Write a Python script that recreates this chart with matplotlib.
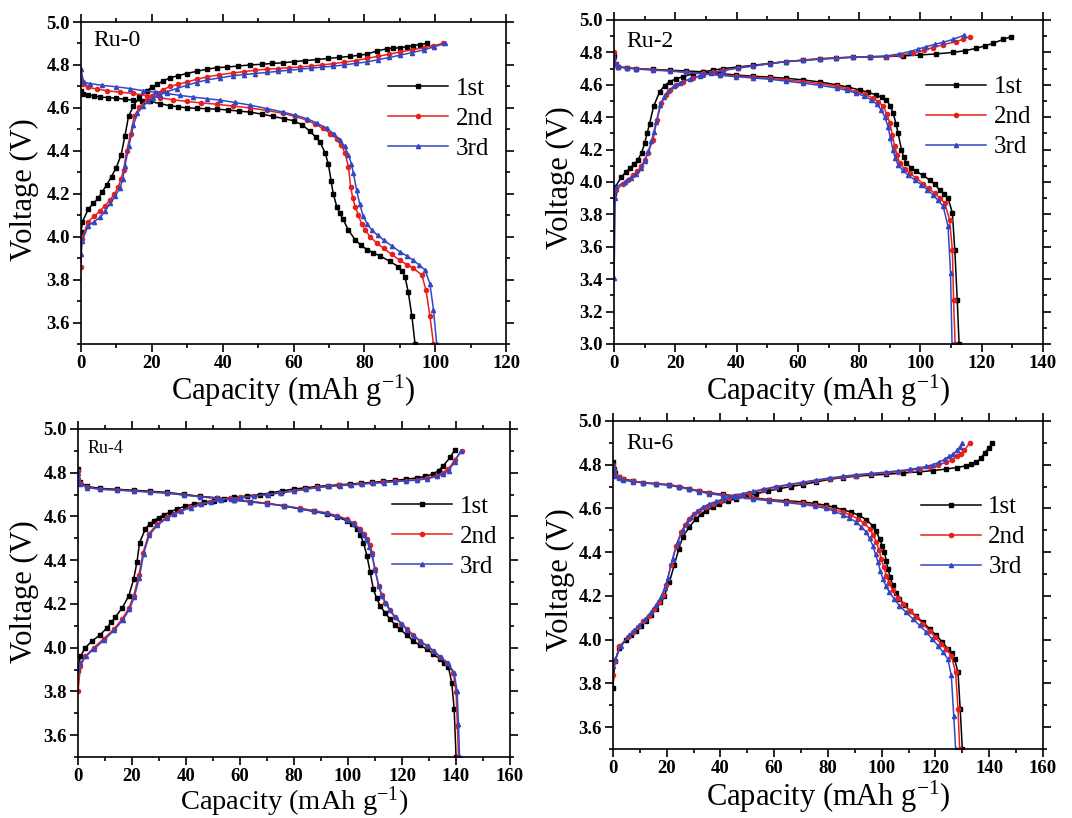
import numpy as np
import matplotlib
matplotlib.use('Agg')
import matplotlib.pyplot as plt
from matplotlib.ticker import MultipleLocator, FormatStrFormatter

plt.rcParams['font.family'] = ['Liberation Serif', 'DejaVu Serif']
plt.rcParams['mathtext.fontset'] = 'custom'
plt.rcParams['mathtext.rm'] = 'Liberation Serif'
plt.rcParams['mathtext.it'] = 'Liberation Serif:italic'

# each curve: (capacity mAh/g, voltage V)

# ---------------- Ru-0 ----------------
ru0_chg1 = [(0, 4.02), (0.4, 4.07), (2.1, 4.13), (3.5, 4.155), (4.9, 4.18), (6, 4.21), (7.2, 4.24), (8.6, 4.28),
            (9.9, 4.32), (11.3, 4.38), (12.4, 4.47), (13.4, 4.56), (14.8, 4.61), (16.5, 4.65), (18.5, 4.68),
            (20, 4.695), (21.4, 4.71), (23.2, 4.725), (25.1, 4.74), (27.4, 4.75), (29.8, 4.76), (32.6, 4.77),
            (35.5, 4.78), (38.3, 4.787), (41.1, 4.79), (44.4, 4.795), (47.7, 4.80), (51, 4.803), (54, 4.807),
            (57.1, 4.81), (60, 4.815), (63.3, 4.82), (66.5, 4.825), (69.6, 4.83), (72.8, 4.835), (76, 4.84),
            (78.5, 4.845), (80.7, 4.85), (83.5, 4.865), (86.3, 4.875), (88, 4.878), (90, 4.88), (92, 4.885),
            (93.8, 4.89), (95.7, 4.895), (97.6, 4.90)]
ru0_chg2 = [(0, 3.86), (0.2, 3.99), (2, 4.07), (3.7, 4.095), (5.4, 4.12), (6.8, 4.145), (8.2, 4.17), (9.4, 4.20),
            (10.5, 4.23), (11.3, 4.27), (12, 4.31), (12.9, 4.40), (14, 4.48), (15, 4.56), (16.5, 4.605),
            (18.5, 4.635), (20, 4.653), (21.4, 4.667), (23.2, 4.685), (25.1, 4.70), (27.4, 4.71), (29.8, 4.72),
            (32.6, 4.733), (35.5, 4.744), (39, 4.754), (43, 4.763), (46, 4.769), (49.2, 4.775), (52.4, 4.78),
            (55.5, 4.783), (58.6, 4.787), (61.8, 4.79), (65, 4.795), (68, 4.80), (71.2, 4.806), (74.3, 4.813),
            (77.5, 4.82), (80.7, 4.83), (83.8, 4.84), (87, 4.85), (90, 4.86), (93.3, 4.87), (96.7, 4.88),
            (99.5, 4.89), (102.3, 4.90)]
ru0_chg3 = [(0, 3.92), (0.3, 3.98), (2, 4.05), (3.7, 4.07), (5.4, 4.09), (6.8, 4.12), (8.2, 4.155), (9.6, 4.19),
            (11, 4.225), (11.8, 4.27), (12.4, 4.33), (13.5, 4.42), (14.8, 4.52), (15.9, 4.575), (17.6, 4.61),
            (19, 4.63), (20.4, 4.645), (22.3, 4.66), (24.2, 4.675), (27, 4.69), (29.8, 4.705), (32.6, 4.718),
            (35.5, 4.73), (39.2, 4.74), (43, 4.75), (46, 4.755), (49.2, 4.76), (52.4, 4.765), (55.5, 4.77),
            (58.6, 4.775), (61.8, 4.78), (65, 4.785), (68, 4.79), (71.2, 4.794), (74.3, 4.80), (77.5, 4.807),
            (80.7, 4.814), (83.8, 4.824), (87, 4.835), (90, 4.845), (93.3, 4.857), (96.7, 4.87), (99.7, 4.885),
            (102.8, 4.90)]
ru0_dis1 = [(0, 4.68), (0.5, 4.665), (2, 4.66), (3.7, 4.655), (5.4, 4.65), (7.7, 4.648), (10, 4.645), (12.4, 4.64),
            (14.8, 4.635), (17.2, 4.632), (19.5, 4.63), (22.3, 4.62), (25, 4.61), (27.4, 4.605), (29.8, 4.60),
            (32.6, 4.598), (35.5, 4.596), (38.3, 4.594), (41.5, 4.59), (44.6, 4.585), (47.7, 4.58), (51, 4.571),
            (54.3, 4.56), (57.2, 4.55), (60, 4.54), (62.5, 4.52), (64.7, 4.49), (66.2, 4.465), (67.5, 4.44),
            (68.9, 4.39), (69.8, 4.34), (70.6, 4.26), (71.2, 4.20), (72.2, 4.14), (73, 4.11), (74, 4.08),
            (75.5, 4.03), (77.4, 3.985), (79, 3.96), (80.7, 3.94), (82.5, 3.925), (84.4, 3.91), (87.2, 3.885),
            (89.6, 3.86), (90.7, 3.84), (91.5, 3.81), (92.4, 3.74), (93.4, 3.63), (94.3, 3.50)]
ru0_dis2 = [(0, 4.73), (0.5, 4.71), (2, 4.695), (4.5, 4.688), (7.2, 4.68), (11, 4.673), (14.8, 4.667), (18.5, 4.657),
            (22.3, 4.647), (26, 4.638), (29.8, 4.63), (34, 4.623), (38.3, 4.617), (43, 4.608), (47.7, 4.60),
            (52.4, 4.588), (57.1, 4.574), (60.4, 4.56), (63.7, 4.543), (66, 4.525), (68.4, 4.504), (70.4, 4.48),
            (72.2, 4.457), (73.5, 4.425), (74.5, 4.39), (75.5, 4.326), (76.1, 4.233), (76.7, 4.18), (77.4, 4.14),
            (78.3, 4.10), (79.2, 4.06), (80.3, 4.03), (81.6, 4.00), (83.5, 3.97), (85.4, 3.946), (87.7, 3.917),
            (90, 3.89), (92, 3.87), (93.8, 3.853), (96.2, 3.822), (97.4, 3.75), (98.5, 3.63), (99.5, 3.50)]
ru0_dis3 = [(0, 4.78), (0.7, 4.72), (2.5, 4.713), (6, 4.705), (10, 4.698), (13.8, 4.69), (17.6, 4.68), (21, 4.673),
            (24.2, 4.667), (28, 4.658), (31.7, 4.65), (35.5, 4.643), (39.2, 4.636), (43.5, 4.625), (47.7, 4.613),
            (52.4, 4.597), (57.1, 4.58), (60.4, 4.566), (63.7, 4.55), (66.5, 4.53), (69.4, 4.504), (71.3, 4.48),
            (73.1, 4.45), (74.4, 4.42), (75.5, 4.38), (76.3, 4.34), (76.9, 4.295), (77.8, 4.217), (78.7, 4.15),
            (79.7, 4.094), (80.8, 4.06), (82.1, 4.03), (83.7, 4.007), (85.4, 3.985), (87.7, 3.957), (90, 3.93),
            (92, 3.91), (93.8, 3.89), (95.5, 3.868), (97.1, 3.845), (98.5, 3.78), (99.5, 3.66), (100.4, 3.50)]

# ---------------- Ru-2 ----------------
ru2_chg1 = [(0, 3.93), (0.4, 3.97), (2.4, 4.03), (3.8, 4.06), (5.1, 4.085), (6.5, 4.11), (7.8, 4.137), (9, 4.18),
            (10, 4.24), (10.8, 4.30), (11.6, 4.36), (12.9, 4.466), (14.9, 4.558), (16.5, 4.595), (18.2, 4.62),
            (20.3, 4.637), (22.5, 4.65), (25.7, 4.667), (29, 4.68), (32.3, 4.69), (35.6, 4.70), (40.5, 4.71),
            (45.4, 4.72), (50.8, 4.732), (56.2, 4.743), (61.6, 4.752), (67.1, 4.76), (72.5, 4.766), (78, 4.77),
            (83.5, 4.772), (88.9, 4.774), (94.3, 4.778), (99.7, 4.784), (105, 4.79), (110.6, 4.80), (114.5, 4.81),
            (118.2, 4.825), (121, 4.84), (123.7, 4.856), (126.9, 4.88), (129.7, 4.897)]
ru2_chg2 = [(0, 3.90), (0.8, 3.95), (2.9, 3.99), (4.5, 4.015), (6.2, 4.04), (7.6, 4.065), (8.9, 4.096), (10, 4.135),
            (11.1, 4.18), (12.7, 4.26), (14, 4.383), (15.4, 4.486), (16.8, 4.535), (18.2, 4.568), (20.3, 4.597),
            (22.5, 4.62), (25.7, 4.642), (29, 4.66), (32.3, 4.676), (35.6, 4.69), (40.5, 4.704), (45.4, 4.716),
            (50.8, 4.73), (56.2, 4.743), (61.6, 4.752), (67.1, 4.76), (72.5, 4.766), (78, 4.77), (83.5, 4.772),
            (88.9, 4.774), (93.5, 4.782), (97.6, 4.795), (101, 4.812), (104.1, 4.83), (107.5, 4.848),
            (111.7, 4.866), (114, 4.882), (116, 4.897)]
ru2_chg3 = [(0, 3.41), (0.4, 3.90), (0.8, 3.97), (3.5, 4.00), (5.4, 4.025), (7.3, 4.05), (8.7, 4.085), (10, 4.13),
            (11.2, 4.19), (12.2, 4.25), (13, 4.31), (13.8, 4.373), (15.1, 4.476), (16.3, 4.525), (17.6, 4.56),
            (19.5, 4.59), (21.4, 4.61), (24.7, 4.635), (28, 4.655), (31.8, 4.673), (35.6, 4.688), (40.5, 4.703),
            (45.4, 4.716), (50.8, 4.73), (56.2, 4.743), (61.6, 4.75), (67.1, 4.757), (72.5, 4.764), (78, 4.77),
            (83.5, 4.774), (88.9, 4.778), (93, 4.79), (96.5, 4.805), (99.2, 4.82), (101.9, 4.835), (104.7, 4.85),
            (107.4, 4.862), (110.6, 4.88), (114.1, 4.905)]
ru2_dis1 = [(0, 4.78), (0.5, 4.73), (1.3, 4.71), (4.3, 4.705), (7.3, 4.70), (12.8, 4.695), (18.2, 4.69),
            (23.6, 4.685), (29, 4.68), (34.5, 4.67), (39.9, 4.66), (45.3, 4.653), (50.8, 4.647), (56.2, 4.64),
            (61.7, 4.63), (67.2, 4.617), (72.6, 4.60), (76.5, 4.585), (80.2, 4.568), (83, 4.553), (85.6, 4.537),
            (87.4, 4.522), (88.9, 4.507), (90.1, 4.47), (91.1, 4.424), (92, 4.36), (92.7, 4.30), (93.8, 4.20),
            (94.5, 4.155), (95.4, 4.116), (96.9, 4.088), (98.7, 4.065), (100.8, 4.04), (103, 4.013),
            (104.7, 3.985), (106.3, 3.95), (107.8, 3.925), (109, 3.90), (110.4, 3.81), (111.2, 3.58),
            (112, 3.27), (112.6, 3.00)]
ru2_dis2 = [(0, 4.80), (0.5, 4.73), (1.3, 4.71), (4.3, 4.705), (7.3, 4.70), (12.8, 4.693), (18.2, 4.687),
            (23.6, 4.678), (29, 4.67), (34.5, 4.662), (39.9, 4.655), (45.3, 4.647), (50.8, 4.64), (56.2, 4.63),
            (61.7, 4.62), (67.2, 4.607), (72.6, 4.59), (76, 4.575), (79.1, 4.558), (82, 4.54), (84.5, 4.517),
            (86.3, 4.495), (87.8, 4.466), (89, 4.42), (90, 4.363), (90.8, 4.29), (91.6, 4.22), (92.4, 4.165),
            (93.2, 4.116), (94.8, 4.08), (96.5, 4.054), (98.7, 4.022), (100.8, 3.99), (102.7, 3.96),
            (104.6, 3.93), (106.3, 3.90), (107.9, 3.87), (109.5, 3.767), (110.4, 3.58), (110.8, 3.27),
            (111.3, 3.00)]
ru2_dis3 = [(0, 4.77), (0.5, 4.73), (1.3, 4.71), (4.3, 4.703), (7.3, 4.697), (12.8, 4.69), (18.2, 4.685),
            (23.6, 4.676), (29, 4.667), (34.5, 4.658), (39.9, 4.65), (45.3, 4.642), (50.8, 4.634), (56.2, 4.622),
            (61.7, 4.61), (67.2, 4.596), (72.6, 4.58), (76, 4.565), (79.1, 4.548), (81.6, 4.53), (84, 4.507),
            (85.7, 4.48), (87.2, 4.445), (88.4, 4.40), (89.4, 4.342), (90.2, 4.27), (91, 4.198), (91.8, 4.145),
            (92.7, 4.106), (94.2, 4.072), (95.9, 4.044), (98.1, 4.013), (100.3, 3.983), (102.2, 3.952),
            (104.1, 3.92), (105.8, 3.886), (107.4, 3.85), (109, 3.726), (109.8, 3.44), (110.3, 3.00)]

# ---------------- Ru-4 ----------------
ru4_chg1 = [(0, 3.90), (0.2, 3.917), (0.9, 3.96), (2.7, 4.00), (5.2, 4.03), (8.3, 4.06), (10.7, 4.09), (12.3, 4.115),
            (13.8, 4.14), (16.3, 4.18), (18.8, 4.237), (20.6, 4.313), (21.8, 4.39), (22.8, 4.48), (24.9, 4.542),
            (26.5, 4.565), (28, 4.58), (29.8, 4.595), (31.7, 4.606), (34.1, 4.62), (36.6, 4.634), (39.7, 4.647),
            (42.8, 4.657), (46.5, 4.665), (50.2, 4.672), (53.9, 4.68), (57.6, 4.687), (62.5, 4.694), (67.5, 4.70),
            (71.5, 4.708), (75.6, 4.717), (79.8, 4.725), (84.2, 4.731), (88.5, 4.737), (92.6, 4.741),
            (96.7, 4.745), (100.8, 4.748), (104.9, 4.752), (109, 4.756), (113.1, 4.76), (117.3, 4.765),
            (121.4, 4.77), (125.5, 4.776), (128.5, 4.783), (131.6, 4.794), (133.5, 4.81), (135.3, 4.832),
            (137.8, 4.87), (139.6, 4.905)]
ru4_chg2 = [(0, 3.80), (0.9, 3.917), (2.7, 3.96), (5.8, 4.00), (9.5, 4.04), (13.2, 4.084), (16.3, 4.13), (18.8, 4.18),
            (20.6, 4.237), (22.5, 4.33), (24.1, 4.435), (26.2, 4.52), (29.2, 4.565), (32.9, 4.596), (35.4, 4.613),
            (37.9, 4.626), (41.6, 4.642), (45.3, 4.657), (49, 4.668), (52.7, 4.677), (56.4, 4.682), (60.1, 4.687),
            (65, 4.693), (70, 4.70), (74.9, 4.708), (79.8, 4.717), (84.2, 4.725), (88.5, 4.733), (92.6, 4.738),
            (96.7, 4.742), (100.8, 4.745), (104.9, 4.749), (109, 4.753), (113.1, 4.756), (117.3, 4.76),
            (121.4, 4.764), (125.5, 4.768), (129.2, 4.775), (132.9, 4.786), (135, 4.80), (137.2, 4.817),
            (139.6, 4.86), (142.1, 4.90)]
ru4_chg3 = [(0, 3.90), (0.9, 3.93), (2.9, 3.96), (6, 3.995), (9.7, 4.035), (13.4, 4.08), (16.5, 4.125), (19, 4.175),
            (20.8, 4.23), (22.7, 4.32), (24.3, 4.43), (26.4, 4.515), (29.4, 4.56), (33.1, 4.594), (35.6, 4.61),
            (38.1, 4.624), (41.8, 4.64), (45.5, 4.655), (49.2, 4.666), (52.9, 4.675), (56.6, 4.681), (60.3, 4.686),
            (65.2, 4.692), (70.2, 4.70), (75.1, 4.708), (80, 4.716), (84.4, 4.724), (88.7, 4.732), (92.8, 4.737),
            (96.9, 4.741), (101, 4.744), (105.1, 4.748), (109.2, 4.752), (113.3, 4.755), (117.4, 4.759),
            (121.5, 4.763), (125.7, 4.766), (129.4, 4.773), (133, 4.783), (135.2, 4.795), (137.3, 4.81),
            (139.5, 4.85), (141.8, 4.90)]
ru4_dis1 = [(0, 4.817), (0.9, 4.756), (3.3, 4.737), (8.3, 4.728), (14.5, 4.724), (20.6, 4.72), (26.8, 4.715),
            (32.9, 4.71), (39.1, 4.701), (45.3, 4.692), (51.5, 4.685), (57.6, 4.677), (63.8, 4.668), (70, 4.66),
            (76.2, 4.648), (82.3, 4.634), (87.3, 4.623), (92.2, 4.611), (96, 4.597), (99.6, 4.58), (101.6, 4.565),
            (103.3, 4.542), (104.6, 4.515), (105.7, 4.48), (107, 4.42), (108.2, 4.344), (109.4, 4.267),
            (110.6, 4.225), (111.9, 4.19), (113.7, 4.16), (115.6, 4.13), (117.4, 4.105), (119.3, 4.084),
            (121.8, 4.057), (124.2, 4.03), (126.7, 4.01), (129.2, 3.993), (131.6, 3.97), (134.1, 3.947),
            (135.7, 3.93), (137.2, 3.91), (138.4, 3.84), (139.3, 3.72), (140, 3.50)]
ru4_dis2 = [(0, 4.81), (0.9, 4.753), (3.3, 4.733), (8.3, 4.725), (14.5, 4.721), (20.6, 4.717), (26.8, 4.712),
            (32.9, 4.707), (39.1, 4.699), (45.3, 4.69), (51.5, 4.683), (57.6, 4.675), (63.8, 4.668), (70, 4.66),
            (76.2, 4.649), (82.3, 4.637), (87.3, 4.627), (92.2, 4.616), (96, 4.603), (99.6, 4.588), (102.2, 4.568),
            (104.5, 4.542), (106, 4.52), (107, 4.496), (108, 4.468), (108.8, 4.435), (110, 4.36), (111.3, 4.283),
            (112.4, 4.24), (113.7, 4.206), (115.5, 4.17), (117.4, 4.138), (119.6, 4.11), (121.8, 4.084),
            (124.2, 4.056), (126.7, 4.03), (129.2, 4.008), (131.6, 3.985), (134.1, 3.958), (136.6, 3.932),
            (139, 3.886), (140, 3.795), (140.5, 3.64), (140.9, 3.50)]
ru4_dis3 = [(0, 4.80), (0.9, 4.75), (3.3, 4.732), (8.3, 4.724), (14.5, 4.72), (20.6, 4.716), (26.8, 4.711),
            (32.9, 4.706), (39.1, 4.698), (45.3, 4.69), (51.5, 4.682), (57.6, 4.674), (63.8, 4.666), (70, 4.658),
            (76.2, 4.648), (82.3, 4.636), (87.3, 4.625), (92.2, 4.614), (96, 4.60), (99.6, 4.585), (102.1, 4.565),
            (104.3, 4.54), (105.8, 4.515), (106.9, 4.49), (107.9, 4.462), (108.7, 4.43), (110, 4.355),
            (111.4, 4.28), (112.6, 4.237), (113.9, 4.205), (115.7, 4.17), (117.6, 4.138), (119.8, 4.11),
            (122, 4.082), (124.5, 4.054), (127, 4.028), (129.5, 4.006), (131.9, 3.983), (134.4, 3.956),
            (136.9, 3.93), (139.3, 3.886), (140.4, 3.80), (140.9, 3.65), (141.3, 3.50)]

# ---------------- Ru-6 ----------------
ru6_chg1 = [(0, 3.78), (0.7, 3.90), (2.4, 3.96), (4.8, 4.00), (6.7, 4.02), (8.6, 4.04), (10.5, 4.063), (12.3, 4.087),
            (14.2, 4.113), (16, 4.14), (17.6, 4.17), (19.1, 4.20), (21, 4.263), (22.8, 4.34), (24.5, 4.415),
            (26, 4.47), (28.4, 4.515), (30.9, 4.553), (32.7, 4.573), (34.6, 4.59), (37.1, 4.606), (39.6, 4.62),
            (42.7, 4.633), (45.8, 4.645), (49.5, 4.656), (53.3, 4.667), (57.6, 4.679), (61.9, 4.69), (66.2, 4.70),
            (70.6, 4.709), (75.6, 4.721), (80.6, 4.733), (85.5, 4.741), (90.5, 4.747), (96, 4.752),
            (101.7, 4.756), (107.8, 4.762), (114, 4.767), (119, 4.773), (124, 4.78), (128, 4.787),
            (131.5, 4.795), (133.4, 4.802), (135.2, 4.81), (137, 4.83), (138.3, 4.855), (139.8, 4.875),
            (141.2, 4.90)]
ru6_chg2 = [(0, 3.84), (0.7, 3.90), (2.4, 3.97), (5.5, 4.01), (7.3, 4.033), (9.2, 4.057), (11.3, 4.083), (13.5, 4.11),
            (15.4, 4.14), (17.3, 4.17), (18.6, 4.205), (19.7, 4.25), (21.6, 4.34), (23.5, 4.43), (25.3, 4.49),
            (26.8, 4.525), (28.4, 4.553), (30.2, 4.573), (32.1, 4.59), (34.6, 4.606), (37.1, 4.62), (40.2, 4.634),
            (43.3, 4.647), (47, 4.659), (50.8, 4.67), (55.7, 4.684), (60.7, 4.697), (65.6, 4.707), (70.6, 4.717),
            (75.6, 4.727), (80.6, 4.736), (85.5, 4.743), (90.5, 4.75), (96, 4.757), (101.7, 4.763), (106, 4.768),
            (110.4, 4.774), (114.2, 4.781), (117.8, 4.79), (121, 4.80), (124, 4.81), (126, 4.822), (128, 4.838),
            (129.5, 4.85), (130.8, 4.865), (132.7, 4.90)]
ru6_chg3 = [(0, 3.88), (0.9, 3.91), (2.9, 3.97), (6.1, 4.02), (8, 4.043), (9.8, 4.065), (12, 4.095), (14.2, 4.126),
            (16.1, 4.16), (17.9, 4.195), (19.2, 4.235), (20.4, 4.28), (22.2, 4.37), (24.1, 4.446), (26, 4.50),
            (27.5, 4.535), (29, 4.56), (31.2, 4.586), (33.4, 4.606), (35.9, 4.62), (38.4, 4.632), (41.5, 4.645),
            (44.6, 4.657), (48.3, 4.668), (52, 4.678), (56.3, 4.689), (60.7, 4.70), (65.6, 4.71), (70.6, 4.72),
            (75.6, 4.73), (80.6, 4.739), (85.5, 4.747), (90.5, 4.754), (96, 4.76), (101.7, 4.766), (106, 4.772),
            (110.4, 4.778), (113.5, 4.785), (116.6, 4.792), (119, 4.80), (121.5, 4.812), (123.4, 4.825),
            (125.2, 4.838), (126.7, 4.85), (128, 4.865), (129, 4.88), (130, 4.90)]
ru6_dis1 = [(0, 4.81), (0.3, 4.78), (0.9, 4.76), (2.2, 4.745), (3.6, 4.736), (7.3, 4.726), (11, 4.718), (16, 4.713),
            (21, 4.708), (24.7, 4.70), (28.4, 4.69), (32.1, 4.68), (35.9, 4.672), (40.8, 4.664), (45.8, 4.657),
            (52, 4.649), (58.2, 4.64), (64.4, 4.635), (70.6, 4.63), (75, 4.623), (79.3, 4.614), (82.4, 4.605),
            (85.5, 4.594), (88.6, 4.583), (91.7, 4.568), (94.3, 4.548), (96.7, 4.52), (98, 4.495), (99.2, 4.46),
            (100.2, 4.43), (101, 4.40), (101.7, 4.36), (102.3, 4.324), (103.2, 4.285), (104.1, 4.248),
            (105.3, 4.215), (106.6, 4.187), (108.5, 4.16), (110.4, 4.133), (112.8, 4.107), (115.3, 4.08),
            (117.8, 4.05), (120.3, 4.019), (122.5, 3.99), (124.6, 3.958), (126, 3.94), (127.1, 3.912),
            (128.4, 3.85), (129.2, 3.683), (130, 3.50)]
ru6_dis2 = [(0, 4.80), (0.3, 4.775), (0.9, 4.755), (2.2, 4.742), (3.6, 4.733), (7.3, 4.725), (11, 4.718), (16, 4.713),
            (21, 4.708), (24.7, 4.70), (28.4, 4.69), (32.1, 4.68), (35.9, 4.67), (40.8, 4.662), (45.8, 4.655),
            (52, 4.646), (58.2, 4.638), (64.4, 4.631), (70.6, 4.624), (75, 4.616), (79.3, 4.606), (82.4, 4.595),
            (85.5, 4.583), (88.3, 4.57), (91.1, 4.553), (93.4, 4.533), (95.5, 4.507), (96.8, 4.48), (98, 4.446),
            (99, 4.41), (99.8, 4.37), (100.8, 4.33), (101.7, 4.293), (102.9, 4.258), (104.1, 4.225),
            (105.9, 4.192), (107.9, 4.164), (110.4, 4.133), (112.9, 4.103), (115.3, 4.072), (117.8, 4.04),
            (120, 4.01), (122.2, 3.98), (124, 3.955), (125.9, 3.927), (127.5, 3.85), (128.4, 3.683), (129, 3.50)]
ru6_dis3 = [(0, 4.80), (0.3, 4.775), (0.9, 4.75), (2.2, 4.738), (3.6, 4.73), (7.3, 4.722), (11, 4.717), (16, 4.711),
            (21, 4.706), (24.7, 4.697), (28.4, 4.687), (32.1, 4.677), (35.9, 4.667), (40.8, 4.659), (45.8, 4.652),
            (52, 4.643), (58.2, 4.635), (64.4, 4.627), (70.6, 4.618), (75, 4.61), (79.3, 4.60), (82.4, 4.587),
            (85.5, 4.571), (88, 4.556), (90.5, 4.538), (92.4, 4.517), (94.2, 4.492), (95.5, 4.463), (96.7, 4.43),
            (97.7, 4.39), (98.6, 4.355), (99.5, 4.315), (100.4, 4.278), (101.6, 4.245), (102.9, 4.217),
            (104.7, 4.185), (106.6, 4.156), (109, 4.125), (111.6, 4.095), (114.1, 4.065), (116.6, 4.034),
            (118.7, 4.004), (120.9, 3.973), (122.8, 3.943), (124.6, 3.912), (125.9, 3.836), (126.8, 3.653),
            (127.5, 3.50)]

cycle_labels = ['1st', '2nd', '3rd']
colors = ['black', '#e8201c', '#3347c4']
markers = ['s', 'o', '^']

panels = [
    # name, [(charge, discharge) per cycle], xmax, ymin, axes rect, name pos, name size,
    # legend anchor, ylabel pos, xlabel y, xlabel size
    ('Ru-0', [(ru0_chg1, ru0_dis1), (ru0_chg2, ru0_dis2), (ru0_chg3, ru0_dis3)],
     120, 3.5, [0.0756, 0.5795, 0.3965, 0.3936], (0.028, 0.944), 17, (0.722, 0.699), (-0.132, 0.48), -0.145, 22),
    ('Ru-2', [(ru2_chg1, ru2_dis1), (ru2_chg2, ru2_dis2), (ru2_chg3, ru2_dis3)],
     140, 3.0, [0.5728, 0.5795, 0.4002, 0.3961], (0.028, 0.932), 17, (0.727, 0.70), (-0.124, 0.512), -0.145, 22),
    ('Ru-4', [(ru4_chg1, ru4_dis1), (ru4_chg2, ru4_dis2), (ru4_chg3, ru4_dis3)],
     160, 3.5, [0.0728, 0.0746, 0.4030, 0.4010], (0.023, 0.939), 13, (0.727, 0.671), (-0.123, 0.503), -0.136, 20.5),
    ('Ru-6', [(ru6_chg1, ru6_dis1), (ru6_chg2, ru6_dis2), (ru6_chg3, ru6_dis3)],
     160, 3.5, [0.5718, 0.0844, 0.4011, 0.4010], (0.030, 0.930), 17, (0.716, 0.646), (-0.121, 0.515), -0.145, 22),
]

fig = plt.figure(figsize=(10.72, 8.18), dpi=100)

for name, cycles, xmax, ymin, rect, npos, nsize, legpos, ylpos, xly, xls in panels:
    ax = fig.add_axes(rect)
    handles = []
    for i, (chg, dis) in enumerate(cycles):
        cx, cy = zip(*chg)
        dx, dy = zip(*dis)
        h, = ax.plot(cx, cy, color=colors[i], marker=markers[i], ms=3, lw=1.1)
        ax.plot(dx, dy, color=colors[i], marker=markers[i], ms=3, lw=1.1)
        handles.append(h)

    ax.set_xlim(0, xmax)
    ax.set_ylim(ymin, 5.0)
    ax.xaxis.set_major_locator(MultipleLocator(20))
    ax.xaxis.set_minor_locator(MultipleLocator(10))
    ax.yaxis.set_major_locator(MultipleLocator(0.2))
    ax.yaxis.set_minor_locator(MultipleLocator(0.1))
    ax.yaxis.set_major_formatter(FormatStrFormatter('%.1f'))
    ax.tick_params(which='both', direction='out', top=True, right=True, width=1.2)
    ax.tick_params(which='major', length=5.5, labelsize=13.5, pad=2.5)
    ax.tick_params(which='minor', length=3)
    for lab in ax.get_xticklabels() + ax.get_yticklabels():
        lab.set_fontweight('bold')
    for sp in ax.spines.values():
        sp.set_linewidth(1.2)

    ax.set_ylabel('Voltage (V)', fontsize=22)
    ax.yaxis.set_label_coords(*ylpos)
    ax.yaxis.label.set_verticalalignment('center')
    ax.set_xlabel('Capacity (mAh g$^{-1}$)', fontsize=xls)
    ax.xaxis.set_label_coords(0.5, xly)
    ax.xaxis.label.set_verticalalignment('center')

    ax.text(npos[0], npos[1], name, transform=ax.transAxes, fontsize=nsize,
            ha='left', va='center')

    ax.legend(handles, cycle_labels, loc='center left', bbox_to_anchor=legpos,
              frameon=False, fontsize=18, borderpad=0, borderaxespad=0,
              handlelength=2.4, handletextpad=0.3, labelspacing=0.3)

plt.savefig('out.png', dpi=100)
plt.close()
